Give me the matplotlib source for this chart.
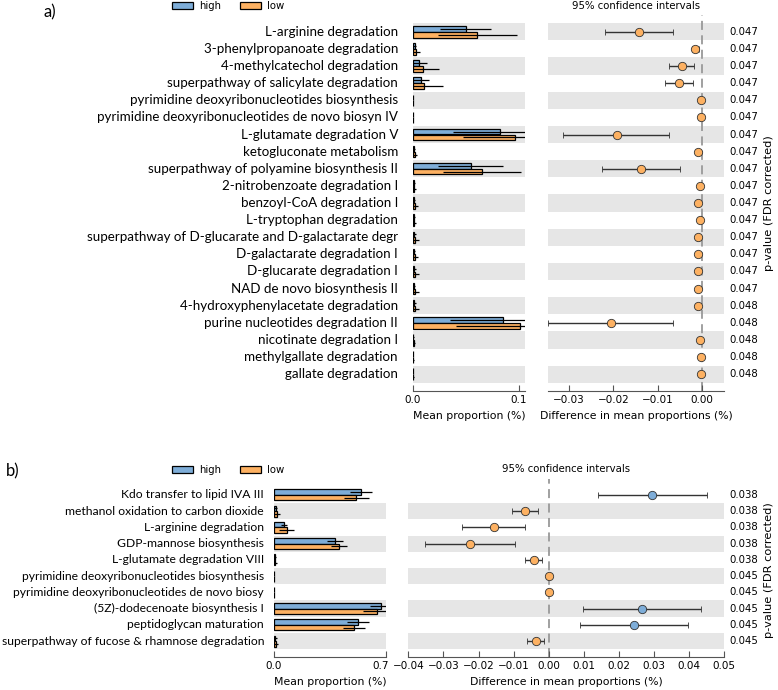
#Imports
import matplotlib
matplotlib.use('Agg')
import matplotlib.pyplot as plt
from matplotlib.patches import Patch
import matplotlib.transforms as mtransforms

#Panel a data, listed top to bottom
pathways_a = ['L-arginine degradation',
              '3-phenylpropanoate degradation',
              '4-methylcatechol degradation',
              'superpathway of salicylate degradation',
              'pyrimidine deoxyribonucleotides biosynthesis',
              'pyrimidine deoxyribonucleotides de novo biosyn IV',
              'L-glutamate degradation V',
              'ketogluconate metabolism',
              'superpathway of polyamine biosynthesis II',
              '2-nitrobenzoate degradation I',
              'benzoyl-CoA degradation I',
              'L-tryptophan degradation',
              'superpathway of D-glucarate and D-galactarate degr',
              'D-galactarate degradation I',
              'D-glucarate degradation I',
              'NAD de novo biosynthesis II',
              '4-hydroxyphenylacetate degradation',
              'purine nucleotides degradation II',
              'nicotinate degradation I',
              'methylgallate degradation',
              'gallate degradation']
high_a = [0.0497, 0.0015, 0.0060, 0.0072, 0.0001, 0.0001, 0.0818, 0.0008, 0.0544, 0.0005, 0.0008,
          0.0006, 0.0010, 0.0008, 0.0010, 0.0010, 0.0010, 0.0846, 0.0004, 0.0001, 0.0001]
high_a_sd = [0.0243, 0.0015, 0.0070, 0.0079, 0.0001, 0.0001, 0.0440, 0.0012, 0.0305, 0.0010, 0.0015,
             0.0010, 0.0015, 0.0010, 0.0015, 0.0012, 0.0015, 0.0497, 0.0006, 0.0002, 0.0002]
low_a = [0.0607, 0.0030, 0.0097, 0.0107, 0.0002, 0.0002, 0.0965, 0.0015, 0.0654, 0.0010, 0.0015,
         0.0012, 0.0018, 0.0016, 0.0018, 0.0019, 0.0020, 0.1010, 0.0008, 0.0003, 0.0003]
low_a_sd = [0.0370, 0.0040, 0.0150, 0.0173, 0.0002, 0.0002, 0.0490, 0.0025, 0.0368, 0.0020, 0.0030,
            0.0020, 0.0035, 0.0030, 0.0035, 0.0035, 0.0035, 0.0600, 0.0012, 0.0004, 0.0004]
diff_a = [-0.0142, -0.0016, -0.0045, -0.0051, -0.0001, -0.0001, -0.0193, -0.0008, -0.0137, -0.0005, -0.0008,
          -0.0005, -0.0008, -0.0008, -0.0008, -0.0009, -0.0009, -0.0206, -0.0005, -0.0003, -0.0002]
ci_low_a = [-0.0218, -0.0023, -0.0074, -0.0083, -0.0001, -0.0001, -0.0314, -0.0008, -0.0226, -0.0005, -0.0008,
            -0.0005, -0.0008, -0.0008, -0.0008, -0.0009, -0.0009, -0.0349, -0.0005, -0.0003, -0.0002]
ci_high_a = [-0.0065, -0.0007, -0.0017, -0.0020, -0.0001, -0.0001, -0.0074, -0.0008, -0.0050, -0.0005, -0.0008,
             -0.0005, -0.0008, -0.0008, -0.0008, -0.0009, -0.0009, -0.0065, -0.0005, -0.0003, -0.0002]
pvals_a = ['0.047'] * 16 + ['0.048'] * 5
ticks_bar_a = [0.0, 0.1]
ticks_ci_a = [-0.03, -0.02, -0.01, 0.00]

#Panel b data, listed top to bottom
pathways_b = ['Kdo transfer to lipid IVA III',
              'methanol oxidation to carbon dioxide',
              'L-arginine degradation',
              'GDP-mannose biosynthesis',
              'L-glutamate degradation VIII',
              'pyrimidine deoxyribonucleotides biosynthesis',
              'pyrimidine deoxyribonucleotides de novo biosy',
              '(5Z)-dodecenoate biosynthesis I',
              'peptidoglycan maturation',
              'superpathway of fucose & rhamnose degradation']
high_b = [0.542, 0.010, 0.063, 0.381, 0.006, 0.001, 0.001, 0.667, 0.527, 0.008]
high_b_sd = [0.068, 0.010, 0.020, 0.050, 0.006, 0.001, 0.001, 0.070, 0.068, 0.008]
low_b = [0.513, 0.018, 0.079, 0.408, 0.009, 0.001, 0.001, 0.642, 0.500, 0.011]
low_b_sd = [0.078, 0.022, 0.045, 0.049, 0.012, 0.001, 0.001, 0.084, 0.066, 0.014]
diff_b = [0.0295, -0.0069, -0.0156, -0.0224, -0.0043, 0.0000, 0.0000, 0.0265, 0.0242, -0.0037]
ci_low_b = [0.0139, -0.0106, -0.0246, -0.0353, -0.0068, 0.0000, 0.0000, 0.0098, 0.0089, -0.0063]
ci_high_b = [0.0452, -0.0032, -0.0067, -0.0095, -0.0018, 0.0000, 0.0000, 0.0433, 0.0396, -0.0014]
pvals_b = ['0.038'] * 5 + ['0.045'] * 5
ticks_bar_b = [0.0, 0.7]
ticks_ci_b = [-0.04, -0.03, -0.02, -0.01, 0.00, 0.01, 0.02, 0.03, 0.04, 0.05]

BLUE = '#7EADD8'
ORANGE = '#FDB162'
GRAY = '#E6E6E6'
W, H = 778.0, 690.0


def px(x, y, w, h):
    #converts pixel box (top-left origin) to figure fractions
    return [x / W, 1 - (y + h) / H, w / W, h / H]


def fmt(t, d):
    #tick text with a real minus sign
    return ('%.' + str(d) + 'f') % t if t >= 0 else '\u2212' + ('%.' + str(d) + 'f') % -t


def style_axis(ax, ticks, ticklabels):
    for s in ['top', 'right', 'left']:
        ax.spines[s].set_visible(False)
    ax.spines['bottom'].set_color('#555555')
    ax.spines['bottom'].set_linewidth(0.8)
    ax.set_xticks(ticks)
    ax.set_xticklabels(ticklabels)
    ax.tick_params(axis='x', direction='in', length=4, width=0.8, color='#555555',
                   labelsize=7.5, pad=3)
    ax.set_yticks([])


def draw_panel(fig, rows, high, high_sd, low, low_sd, diff, lo, hi, pvals,
               bar_box, ci_box, bar_xlim, ci_xlim, bar_ticks, ci_ticks, label_pad, label_size):
    n = len(rows)
    ys = [n - 1 - i for i in range(n)]
    ylim = (-0.98, n - 1 + 0.98)

    #Mean proportion bars
    axb = fig.add_axes(px(*bar_box))
    axb.set_xlim(*bar_xlim)
    axb.set_ylim(*ylim)
    for k in ys:
        if k % 2 == 0:
            axb.axhspan(k - 0.5, k + 0.5, color=GRAY, zorder=0, lw=0)
    y_hi = [y + 0.17 for y in ys]
    y_lo = [y - 0.17 for y in ys]
    axb.barh(y_hi, high, height=0.33, color=BLUE, edgecolor='black', linewidth=0.9, zorder=2)
    axb.barh(y_lo, low, height=0.33, color=ORANGE, edgecolor='black', linewidth=0.9, zorder=2)
    axb.errorbar(high, y_hi, xerr=high_sd, fmt='none', ecolor='black', elinewidth=0.9, capsize=0, zorder=3)
    axb.errorbar(low, y_lo, xerr=low_sd, fmt='none', ecolor='black', elinewidth=0.9, capsize=0, zorder=3)
    style_axis(axb, bar_ticks, [fmt(t, 1) for t in bar_ticks])
    axb.set_xlabel('Mean proportion (%)', fontsize=7.8, labelpad=4)
    #pathway names
    trans = mtransforms.blended_transform_factory(axb.transAxes, axb.transData)
    for k, name in zip(ys, rows):
        axb.text(-label_pad / bar_box[2], k, name, transform=trans, ha='right', va='center',
                 fontsize=label_size, family='Lato')

    #Difference in mean proportions with 95% CI
    axc = fig.add_axes(px(*ci_box))
    axc.set_xlim(*ci_xlim)
    axc.set_ylim(*ylim)
    for k in ys:
        if k % 2 == 0:
            axc.axhspan(k - 0.5, k + 0.5, color=GRAY, zorder=0, lw=0)
    axc.axvline(0, color='#999999', ls=(0, (5, 3)), lw=1.3, zorder=1)
    for k, d, l, h in zip(ys, diff, lo, hi):
        c = BLUE if d > 0 else ORANGE
        axc.errorbar([d], [k], xerr=[[d - l], [h - d]], fmt='o', color=c, ecolor='#333333',
                     elinewidth=1, capsize=2.2, capthick=1, ms=6, mec='#333333', mew=0.6, zorder=3)
    style_axis(axc, ci_ticks, [fmt(t, 2) for t in ci_ticks])
    axc.set_xlabel('Difference in mean proportions (%)', fontsize=7.8, labelpad=4)
    trans = mtransforms.blended_transform_factory(axc.transAxes, axc.transData)
    for k, p in zip(ys, pvals):
        axc.text(1 + 5.0 / ci_box[2], k, p, transform=trans, ha='left', va='center', fontsize=7.3)
    return axb, axc


fig = plt.figure(figsize=(7.78, 6.9), dpi=100)

#Panel a
draw_panel(fig, pathways_a, high_a, high_a_sd, low_a, low_a_sd, diff_a, ci_low_a, ci_high_a, pvals_a,
           (413, 15, 112, 376), (548, 15, 176, 376), (0, 0.1057), (-0.0348, 0.005),
           ticks_bar_a, ticks_ci_a, 15, 9.6)
fig.text(636 / W, 1 - 6 / H, '95% confidence intervals', ha='center', va='center', fontsize=7.3)
fig.text(769 / W, 1 - 203 / H, 'p-value (FDR corrected)', rotation=90, ha='center', va='center', fontsize=8.2)
fig.text(43 / W, 1 - 12 / H, 'a)', ha='left', va='center', fontsize=12, family='Lato')

#Panel b
axb_b, axc_b = draw_panel(fig, pathways_b, high_b, high_b_sd, low_b, low_b_sd, diff_b, ci_low_b, ci_high_b,
                          pvals_b, (274, 479, 112, 178), (408.3, 479, 316, 178), (0, 0.7), (-0.04, 0.05),
                          ticks_bar_b, ticks_ci_b, 10, 8.7)
#nudge the "0.7" label left so it clears the "-0.04" label next to it
last = axb_b.get_xticklabels()[-1]
last.set_transform(last.get_transform() + mtransforms.ScaledTranslation(-5 / 100.0, 0, fig.dpi_scale_trans))
fig.text(566.3 / W, 1 - 469 / H, '95% confidence intervals', ha='center', va='center', fontsize=7.3)
fig.text(769 / W, 1 - 570 / H, 'p-value (FDR corrected)', rotation=90, ha='center', va='center', fontsize=8.2)
fig.text(6 / W, 1 - 471 / H, 'b)', ha='left', va='center', fontsize=12, family='Lato')

#Legends
handles = [Patch(facecolor=BLUE, edgecolor='black', lw=0.9, label='high'),
           Patch(facecolor=ORANGE, edgecolor='black', lw=0.9, label='low')]
for ly in [6, 470]:
    fig.legend(handles=handles, loc='center left', bbox_to_anchor=(172 / W, 1 - ly / H), ncol=2,
               frameon=False, fontsize=7.3, handlelength=2.1, handleheight=0.6, handletextpad=0.6,
               columnspacing=1.8, borderpad=0, borderaxespad=0)

fig.savefig('out.png', dpi=100)
